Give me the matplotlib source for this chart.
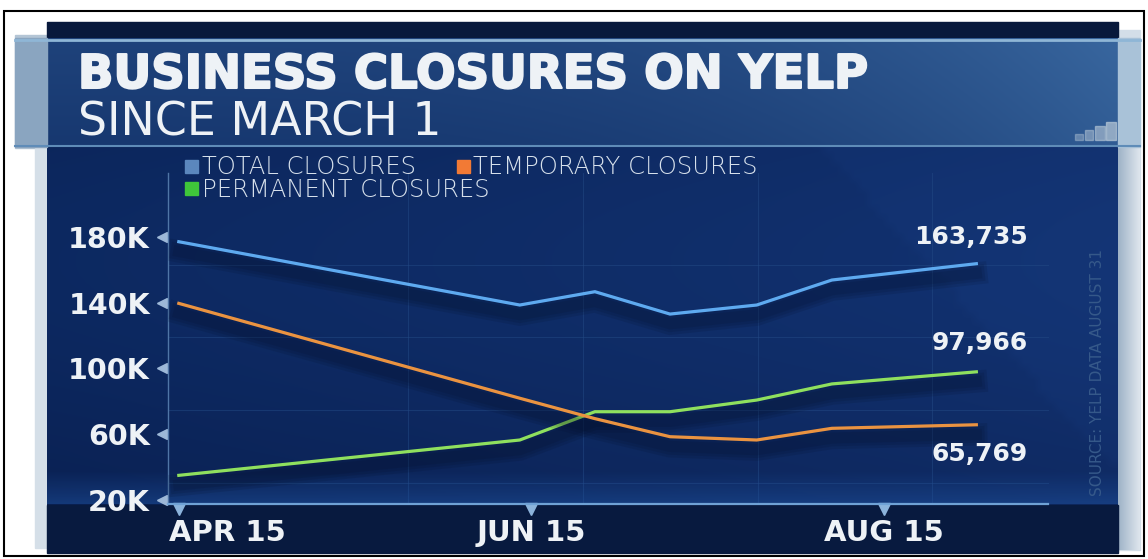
import numpy as np
import matplotlib
matplotlib.use('Agg')
import matplotlib.pyplot as plt
import matplotlib.patheffects as pe
from matplotlib.patches import Rectangle
from matplotlib import transforms

# data
dates = ['2020-04-15', '2020-06-13', '2020-06-26', '2020-07-09',
         '2020-07-24', '2020-08-06', '2020-08-31']
total = [177100, 138600, 146700, 133100, 138600, 153800, 163735]
temporary = [139600, 81900, 69500, 58500, 56500, 63600, 65769]
permanent = [35000, 56500, 73700, 73700, 80800, 90600, 97966]

tick_dates = ['2020-04-15', '2020-06-15', '2020-08-15']
tick_labels = ['APR 15', 'JUN 15', 'AUG 15']
y_ticks = [20000, 60000, 100000, 140000, 180000]

start = np.datetime64('2020-04-15')
days = (np.array(dates, dtype='datetime64[D]') - start).astype(int)
tick_days = (np.array(tick_dates, dtype='datetime64[D]') - start).astype(int)

plt.rcParams['font.family'] = 'DejaVu Sans'

W, H = 1148, 559
fig = plt.figure(figsize=(W / 100, H / 100), dpi=100)
fig.patch.set_facecolor('white')

# background layer in pixel coordinates
bg = fig.add_axes([0, 0, 1, 1])
bg.set_xlim(0, W)
bg.set_ylim(H, 0)
bg.axis('off')


def fill_img(arr, x0, y0, x1, y1, z=0, alpha=1.0):
    bg.imshow(arr, extent=(x0, x1, y1, y0), origin='upper', aspect='auto',
              interpolation='bilinear', zorder=z, alpha=alpha)


# frame
bg.add_patch(Rectangle((4, 11), 1140, 545, fill=False, ec='black', lw=1.5, zorder=20))

# outer light strips
bg.add_patch(Rectangle((15, 35), 32, 113, color='#b4c5d5', zorder=1))
bg.add_patch(Rectangle((35, 148), 12, 400, color='#d5dfe8', zorder=1))
bg.add_patch(Rectangle((1118, 30), 22, 520, color='#d3dee8', zorder=1))
g = np.linspace(0, 1, 50)
side = np.zeros((2, 50, 3))
side[:, :, 0] = 0.62 + 0.25 * g
side[:, :, 1] = 0.70 + 0.20 * g
side[:, :, 2] = 0.78 + 0.15 * g
fill_img(side, 1118, 148, 1140, 550, z=1)

# navy panel
ny, nx = 60, 120
v = np.linspace(0, 1, ny)[:, None]
u = np.linspace(0, 1, nx)[None, :]
panel = np.zeros((ny, nx, 3))
shape = np.exp(-((v - 0.45) / 0.45) ** 2)
panel[:, :, 0] = 0.035 + 0.015 * shape + 0.02 * u
panel[:, :, 1] = 0.115 + 0.045 * shape + 0.035 * u
panel[:, :, 2] = 0.30 + 0.08 * shape + 0.06 * u
streak = ((u - 0.62 - 0.45 * v) > 0).astype(float)
panel[:, :, 0] += 0.006 * streak
panel[:, :, 1] += 0.012 * streak
panel[:, :, 2] += 0.02 * streak
fill_img(np.clip(panel, 0, 1), 47, 22, 1118, 553, z=2)

# top dark strip
bg.add_patch(Rectangle((47, 22), 1071, 16, color='#08193c', zorder=3))

# title band
band = np.zeros((20, 100, 3))
bu = np.linspace(0, 1, 100)[None, :]
bv = np.linspace(0, 1, 20)[:, None]
band[:, :, 0] = 0.09 + 0.10 * bu ** 3 + 0.03 * (1 - bv)
band[:, :, 1] = 0.22 + 0.14 * bu ** 3 + 0.04 * (1 - bv)
band[:, :, 2] = 0.44 + 0.14 * bu ** 3 + 0.04 * (1 - bv)
fill_img(np.clip(band, 0, 1), 47, 38, 1118, 147, z=3)
bg.add_patch(Rectangle((15, 38), 32, 109, color='#8aa5c0', zorder=3))
bg.add_patch(Rectangle((1118, 38), 22, 109, color='#a9c2d8', zorder=3))
bg.plot([15, 1140], [39.5, 39.5], color='#8fb6d6', lw=2, zorder=4)
bg.plot([15, 1140], [146, 146], color='#5f8cb8', lw=1.5, zorder=4)
for i, (x, w) in enumerate([(1075, 8), (1085, 8), (1095, 10), (1106, 10)]):
    bg.add_patch(Rectangle((x, 140 - 6 - 4 * i), w, 6 + 4 * i,
                           color='#b9c9d8', alpha=0.4 + 0.1 * i, zorder=4))

# faint grid behind plot
for gy in [265, 337, 410, 483]:
    bg.plot([168, 1048], [gy, gy], color='#234a85', lw=0.8, alpha=0.5, zorder=5)
for gx in [408, 583, 758, 932]:
    bg.plot([gx, gx], [173, 504], color='#234a85', lw=0.8, alpha=0.5, zorder=5)

# glow above axis and dark band below it
glow = np.zeros((30, 2, 4))
glow[:, :, 0] = 0.12
glow[:, :, 1] = 0.32
glow[:, :, 2] = 0.62
glow[:, :, 3] = np.linspace(0, 0.5, 30)[:, None]
fill_img(glow, 47, 470, 1118, 504, z=5)
bg.add_patch(Rectangle((47, 505), 1071, 48, color='#081a3f', zorder=5))

# legend (custom layout: two entries on the first row, one on the second)
bg.add_patch(Rectangle((185, 160), 13, 13, color='#5b87bd', zorder=6))
bg.add_patch(Rectangle((457, 160), 13, 13, color='#f27a35', zorder=6))
bg.add_patch(Rectangle((185, 182), 13, 13, color='#3fc63a', zorder=6))
leg_kw = dict(fontsize=17.5, weight='light', color='#d6e0eb', va='baseline', ha='left')
fig.text(202 / W, 1 - 174 / H, 'TOTAL CLOSURES', **leg_kw)
fig.text(473 / W, 1 - 174 / H, 'TEMPORARY CLOSURES', **leg_kw)
fig.text(202 / W, 1 - 197 / H, 'PERMANENT CLOSURES', **leg_kw)

# titles
heavy = [pe.withStroke(linewidth=1.5, foreground='#eef2f6')]
fig.text(78 / W, 1 - 88 / H, 'BUSINESS CLOSURES ON YELP', fontsize=33.5,
         weight='bold', color='#eef2f6', va='baseline', ha='left', path_effects=heavy)
fig.text(78 / W, 1 - 135 / H, 'SINCE MARCH 1', fontsize=33,
         color='#eef2f6', va='baseline', ha='left')
fig.text(1097 / W, 1 - 373 / H, 'SOURCE: YELP DATA AUGUST 31', rotation=90,
         fontsize=11, color='#36598a', ha='center', va='center')

# chart
ax = fig.add_axes([168 / W, 1 - 504 / H, (1048 - 168) / W, (504 - 173) / H])
ax.patch.set_alpha(0)
ax.set_xlim(-1.87, 150.4)
ax.set_ylim(17570, 218900)
for s in ['top', 'right']:
    ax.spines[s].set_visible(False)
ax.spines['left'].set_color('#4f75a6')
ax.spines['left'].set_linewidth(1)
ax.spines['bottom'].set_color('#6fa2d6')
ax.spines['bottom'].set_linewidth(1.6)

ax.set_yticks(y_ticks)
ax.set_yticklabels(['%dK' % (t // 1000) for t in y_ticks])
ax.set_xticks(tick_days)
ax.set_xticklabels([])
ax.tick_params(length=0)
ax.tick_params(axis='y', pad=13, labelsize=20.5, labelcolor='#eef2f6')
for lbl in ax.get_yticklabels():
    lbl.set_fontweight('bold')

tri_y = transforms.blended_transform_factory(ax.transAxes, ax.transData)
ax.plot([-0.007] * len(y_ticks), y_ticks, transform=tri_y, ls='none',
        marker='<', ms=7, color='#9db8d8', clip_on=False)
tri_x = transforms.blended_transform_factory(ax.transData, ax.transAxes)
ax.plot(tick_days, [-0.014] * len(tick_days), transform=tri_x, ls='none',
        marker='v', ms=8, color='#8cb4dc', clip_on=False)

lab_tr = transforms.blended_transform_factory(ax.transData, fig.transFigure)
for i, (d, t) in enumerate(zip(tick_days, tick_labels)):
    if i == 0:
        tr = transforms.offset_copy(lab_tr, fig=fig, x=-10, y=0, units='dots')
        ax.text(d, 1 - 541 / H, t, transform=tr, ha='left', va='baseline',
                fontsize=21, weight='bold', color='#eef2f6')
    else:
        ax.text(d, 1 - 541 / H, t, transform=lab_tr, ha='center', va='baseline',
                fontsize=21, weight='bold', color='#eef2f6')

# soft drop shadow under each line
shadow = [pe.SimpleLineShadow(offset=(0, -7), shadow_color='#030c22', alpha=0.12,
                              linewidth=w) for w in (16, 12, 8)] + [pe.Normal()]
series = [(total, '#5eaaf0', (37, 19)), (permanent, '#8fe05e', (37, 21)),
          (temporary, '#ea9341', (37, -21))]
for vals, col, off in series:
    ax.plot(days, vals, color=col, lw=2.3, solid_joinstyle='miter',
            path_effects=shadow, zorder=3)
    ax.annotate('{:,}'.format(vals[-1]), (days[-1], vals[-1]), xytext=off,
                textcoords='offset points', ha='right', va='center',
                fontsize=18, weight='bold', color='#eef2f6')

fig.savefig('out.png', dpi=100)
